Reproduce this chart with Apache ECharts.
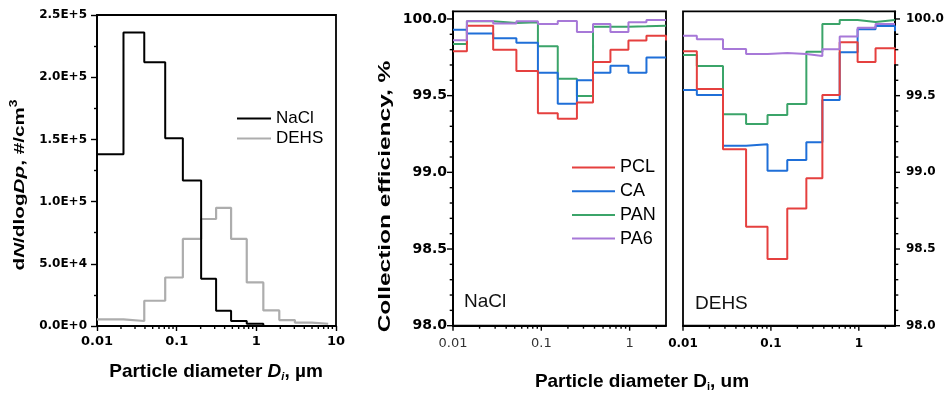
<!DOCTYPE html>
<html>
<head>
<meta charset="utf-8">
<script src="https://cdn.jsdelivr.net/npm/echarts@6/dist/echarts.min.js"></script>
<style>
  html, body { margin: 0; padding: 0; background: #fff; }
  #chart { width: 950px; height: 399px; }
</style>
</head>
<body>
<div id="chart"></div>
<script>
// ---- size distribution (left panel) ----
// lower bin edges in µm (last entry closes the final bin)
const psdEdges = [0.01, 0.0215, 0.0392, 0.0718, 0.1196, 0.2028, 0.3126, 0.482, 0.758, 1.224, 1.941, 3.05, 4.95, 7.98];
// dN/dlogDp, #/cm3, one value per bin
const psdNaCl = [1.38e5, 2.36e5, 2.12e5, 1.51e5, 1.17e5, 3.8e4, 1.23e4, 4.0e3, 1.8e3, 0, 0, 0, 0];
const psdDEHS = [5.4e3, 4.0e3, 2.03e4, 3.9e4, 7.0e4, 8.6e4, 9.5e4, 7.0e4, 3.5e4, 1.25e4, 4.8e3, 2.7e3, 1.8e3];
const psdTicks = ['0.0E+0', '5.0E+4', '1.0E+5', '1.5E+5', '2.0E+5', '2.5E+5'];

// ---- collection efficiency (middle and right panels) ----
// lower bin edges in µm; the last edge sits at the axis end
const effEdges = [0.01, 0.01437, 0.0285, 0.0522, 0.0915, 0.1535, 0.253, 0.385, 0.606, 0.969, 1.55, 2.58];
const filters = ['PCL', 'CA', 'PAN', 'PA6'];
const filterColors = ['#e5403f', '#1f6fd8', '#3ba469', '#a778d8'];
// efficiency (%) per bin; the final value belongs to the bin past the axis end
const naclPCL = [99.79, 99.955, 99.80, 99.66, 99.385, 99.35, 99.455, 99.72, 99.80, 99.86, 99.89, 99.86];
const naclCA  = [99.93, 99.905, 99.875, 99.845, 99.65, 99.448, 99.60, 99.65, 99.695, 99.65, 99.748, 99.748];
const naclPAN = [99.837, 99.985, 99.974, 99.978, 99.822, 99.611, 99.498, 99.95, 99.95, 99.952, 99.956, 99.956];
const naclPA6 = [99.861, 99.987, 99.97, 99.985, 99.967, 99.987, 99.915, 99.967, 99.915, 99.978, 99.993, 99.993];
const dehsPCL = [99.79, 99.544, 99.15, 98.646, 98.435, 98.765, 98.961, 99.504, 99.848, 99.72, 99.809, 99.705];
const dehsCA  = [99.537, 99.504, 99.174, 99.183, 99.011, 99.081, 99.196, 99.472, 99.783, 99.933, 99.954, 99.92];
const dehsPAN = [99.765, 99.694, 99.378, 99.315, 99.374, 99.446, 99.787, 99.967, 99.993, 99.98, 99.993, 99.993];
const dehsPA6 = [99.891, 99.867, 99.804, 99.772, 99.778, 99.772, 99.759, 99.802, 99.885, 99.943, 99.967, 99.967];
const effTicks = [98.0, 98.5, 99.0, 99.5, 100.0];

const EFF_MIN = 98, EFF_MAX = 100.05, D_MIN = 0.01, D_MAX = 2.58;
const TICK_FONT = '"DejaVu Sans", sans-serif';
const TEXT_FONT = '"Liberation Sans", Arial, sans-serif';

// step outline: each bin starts at its lower edge, the last point closes the final bin
function histPoints(edges, vals) {
  const pts = vals.map((v, i) => [edges[i], v]);
  pts.push([edges[vals.length], vals[vals.length - 1]]);
  return pts;
}
function effPoints(vals) {
  return effEdges.map((e, i) => [e, vals[i]]);
}
function logLabel(v) {
  const l = Math.log10(v);
  if (Math.abs(l - Math.round(l)) > 1e-6) return '';
  return String(parseFloat(v.toPrecision(3)));
}
function sciLabel(v) {
  if (v === 0) return psdTicks[0];
  const e = Math.floor(Math.log10(v) + 1e-9);
  return (v / Math.pow(10, e)).toFixed(1) + 'E+' + e;
}
function effLabel(v) {
  return Math.abs(v * 2 - Math.round(v * 2)) < 1e-6 ? v.toFixed(1) : '';
}
function logMinor(maxV) {
  const out = [];
  [0.01, 0.1, 1].forEach(dec => {
    for (let k = 2; k <= 9; k++) {
      const v = +(k * dec).toPrecision(3);
      if (v < maxV) out.push(v);
    }
  });
  return out;
}
function effMinor() {
  const out = [];
  for (let i = 1; i < 20; i++) {
    if (i % 5 !== 0) out.push(+(EFF_MIN + i * 0.1).toFixed(1));
  }
  return out;
}
// short tick strokes placed through the axes' own scales
function tickMarks(xi, yi, pts, dx, dy) {
  return {
    type: 'custom', xAxisIndex: xi, yAxisIndex: yi, silent: true, clip: false, z: 6,
    data: pts,
    renderItem: (params, api) => {
      const p = api.coord([api.value(0), api.value(1)]);
      return { type: 'line', shape: { x1: p[0], y1: p[1], x2: p[0] + dx, y2: p[1] + dy },
               style: { stroke: '#000', lineWidth: 1.4 } };
    }
  };
}

const axisLine = { show: true, lineStyle: { color: '#000', width: 1.8 } };
const gridBase = { show: true, borderColor: '#000', borderWidth: 1.8, backgroundColor: 'transparent' };

const series = [
  { name: 'NaCl', type: 'line', xAxisIndex: 0, yAxisIndex: 0, step: 'end', symbol: 'none',
    data: histPoints(psdEdges, psdNaCl), lineStyle: { color: '#000', width: 2 }, itemStyle: { color: '#000' }, z: 4 },
  { name: 'DEHS', type: 'line', xAxisIndex: 0, yAxisIndex: 0, step: 'end', symbol: 'none',
    data: histPoints(psdEdges, psdDEHS), lineStyle: { color: '#adadad', width: 2.2 }, itemStyle: { color: '#adadad' }, z: 3 }
];
const naclSets = [naclPCL, naclCA, naclPAN, naclPA6];
const dehsSets = [dehsPCL, dehsCA, dehsPAN, dehsPA6];
[naclSets, dehsSets].forEach((sets, g) => {
  sets.forEach((vals, i) => {
    series.push({
      name: filters[i], type: 'line', xAxisIndex: g + 1, yAxisIndex: g + 1, step: 'end', symbol: 'none',
      data: effPoints(vals), clip: true,
      lineStyle: { color: filterColors[i], width: 2 }, itemStyle: { color: filterColors[i] },
      z: 4 - i * 0.1 + (i === 3 ? 0.5 : 0)
    });
  });
});

// left panel minor x ticks
series.push(tickMarks(0, 0, logMinor(10).map(v => [v, 0]), 0, 3));
// middle and right panels: x ticks
[1, 2].forEach(g => {
  series.push(tickMarks(g, g, [0.01, 0.1, 1].map(v => [v, EFF_MIN]), 0, 5));
  series.push(tickMarks(g, g, logMinor(D_MAX).map(v => [v, EFF_MIN]), 0, 3));
});
// middle panel y ticks (left side), right panel y ticks (right side)
series.push(tickMarks(1, 1, effTicks.map(v => [D_MIN, v]), -6, 0));
series.push(tickMarks(1, 1, effMinor().map(v => [D_MIN, v]), -3.3, 0));
series.push(tickMarks(2, 2, effTicks.map(v => [D_MAX, v]), 5, 0));
series.push(tickMarks(2, 2, effMinor().map(v => [D_MAX, v]), 3.3, 0));

const option = {
  animation: false,
  backgroundColor: '#fff',
  grid: [
    Object.assign({ left: 97, right: 614, top: 15, bottom: 73 }, gridBase),
    Object.assign({ left: 453, right: 284, top: 11.3, bottom: 73.3 }, gridBase),
    Object.assign({ left: 683, right: 55, top: 11.3, bottom: 73.3 }, gridBase)
  ],
  xAxis: [
    { type: 'log', gridIndex: 0, logBase: 10, min: 0.01, max: 10, axisLine,
      axisTick: { show: true, length: 5, lineStyle: { color: '#000', width: 1.4 } },
      splitLine: { show: false },
      axisLabel: { formatter: logLabel, color: '#000', fontFamily: TICK_FONT, fontWeight: 'bold', fontSize: 13, margin: 9 } },
    { type: 'log', gridIndex: 1, logBase: 10, min: D_MIN, max: D_MAX, axisLine,
      axisTick: { show: false }, splitLine: { show: false },
      axisLabel: { formatter: logLabel, color: '#333', fontFamily: TICK_FONT, fontSize: 13, margin: 11 } },
    { type: 'log', gridIndex: 2, logBase: 10, min: D_MIN, max: D_MAX, axisLine,
      axisTick: { show: false }, splitLine: { show: false },
      axisLabel: { formatter: logLabel, color: '#000', fontFamily: TICK_FONT, fontWeight: 'bold', fontSize: 12, margin: 12 } }
  ],
  yAxis: [
    { type: 'value', gridIndex: 0, min: 0, max: 2.5e5, interval: 5e4, axisLine,
      axisTick: { show: true, length: 6, lineStyle: { color: '#000', width: 1.4 } },
      minorTick: { show: true, splitNumber: 2, length: 3, lineStyle: { color: '#000', width: 1.4 } },
      splitLine: { show: false },
      axisLabel: { formatter: sciLabel, color: '#000', fontFamily: TICK_FONT, fontWeight: 'bold', fontSize: 12, margin: 10 } },
    { type: 'value', gridIndex: 1, min: EFF_MIN, max: EFF_MAX, interval: 0.5, axisLine,
      axisTick: { show: false }, splitLine: { show: false },
      axisLabel: { formatter: effLabel, color: '#000', fontFamily: TICK_FONT, fontWeight: 'bold', fontSize: 14, margin: 6 } },
    { type: 'value', gridIndex: 2, position: 'right', min: EFF_MIN, max: EFF_MAX, interval: 0.5, axisLine,
      axisTick: { show: false }, splitLine: { show: false },
      axisLabel: { formatter: effLabel, color: '#000', fontFamily: TICK_FONT, fontWeight: 'bold', fontSize: 12, margin: 11 } }
  ],
  legend: [
    { data: ['NaCl', 'DEHS'], orient: 'vertical', left: 232, top: 105, icon: 'rect',
      itemWidth: 34, itemHeight: 2, itemGap: 3, selectedMode: false,
      textStyle: { fontFamily: TEXT_FONT, fontSize: 17, lineHeight: 17, color: '#000' } },
    { data: filters, orient: 'vertical', left: 567, top: 152.5, icon: 'rect',
      itemWidth: 43, itemHeight: 2, itemGap: 3.7, selectedMode: false,
      textStyle: { fontFamily: TEXT_FONT, fontSize: 18, lineHeight: 20, color: '#000' } }
  ],
  graphic: [
    { type: 'text', x: 19.5, y: 185, rotation: Math.PI / 2, scaleX: 1.38, silent: true,
      style: { text: '{b|d}{bi|N}{b|/dlog}{bi|Dp}{b|, #/cm}{sup|3}', align: 'center', verticalAlign: 'middle',
        rich: {
          b: { fontFamily: TEXT_FONT, fontWeight: 'bold', fontSize: 15, fill: '#000' },
          bi: { fontFamily: TEXT_FONT, fontWeight: 'bold', fontStyle: 'italic', fontSize: 15, fill: '#000' },
          sup: { fontFamily: TEXT_FONT, fontWeight: 'bold', fontSize: 10, fill: '#000', padding: [0, 0, 10, 0] }
        } } },
    { type: 'text', x: 385, y: 196.5, rotation: Math.PI / 2, scaleX: 1.44, silent: true,
      style: { text: 'Collection efficiency, %', align: 'center', verticalAlign: 'middle',
        fontFamily: TEXT_FONT, fontWeight: 'bold', fontSize: 17, fill: '#000' } },
    { type: 'text', x: 216, y: 372, silent: true,
      style: { text: '{b|Particle diameter }{bi|D}{sub|i}{b|, µm}', align: 'center', verticalAlign: 'middle',
        rich: {
          b: { fontFamily: TEXT_FONT, fontWeight: 'bold', fontSize: 19, fill: '#000' },
          bi: { fontFamily: TEXT_FONT, fontWeight: 'bold', fontStyle: 'italic', fontSize: 19, fill: '#000' },
          sub: { fontFamily: TEXT_FONT, fontWeight: 'bold', fontStyle: 'italic', fontSize: 11, fill: '#000', padding: [10, 0, 0, 0] }
        } } },
    { type: 'text', x: 642, y: 382, silent: true,
      style: { text: '{b|Particle diameter D}{sub|i}{b|, um}', align: 'center', verticalAlign: 'middle',
        rich: {
          b: { fontFamily: TEXT_FONT, fontWeight: 'bold', fontSize: 19, fill: '#000' },
          sub: { fontFamily: TEXT_FONT, fontWeight: 'bold', fontSize: 11, fill: '#000', padding: [10, 0, 0, 0] }
        } } },
    { type: 'text', x: 464, y: 302, silent: true,
      style: { text: 'NaCl', align: 'left', verticalAlign: 'middle', fontFamily: TEXT_FONT, fontSize: 19, fill: '#111' } },
    { type: 'text', x: 695, y: 304, silent: true,
      style: { text: 'DEHS', align: 'left', verticalAlign: 'middle', fontFamily: TEXT_FONT, fontSize: 19, fill: '#111' } }
  ],
  series
};

const chart = echarts.init(document.getElementById('chart'), null, { renderer: 'canvas' });
chart.setOption(option);
</script>
</body>
</html>
